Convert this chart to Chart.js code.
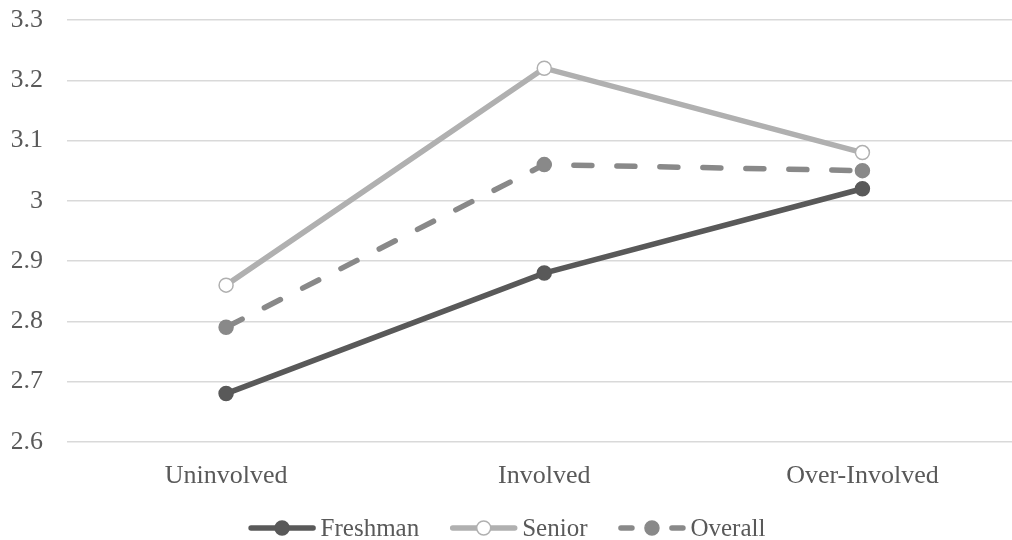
<!DOCTYPE html>
<html>
<head>
<meta charset="utf-8">
<script src="https://cdn.jsdelivr.net/npm/chart.js@4.4.1/dist/chart.umd.min.js"></script>
<style>
    html, body { margin: 0; padding: 0; background: #fff; overflow: hidden; }
    canvas { display: block; }
</style>
</head>
<body>
<canvas id="chart" width="1030" height="540"></canvas>
<script>
var categories = ['Uninvolved', 'Involved', 'Over-Involved'];
var freshman = [2.68, 2.88, 3.02];
var senior = [2.86, 3.22, 3.08];
var overall = [2.79, 3.06, 3.05];
var yMin = 2.6, yMax = 3.3, yStep = 0.1;

var FONT_FAMILY = '"Liberation Serif", "Times New Roman", serif';
var TEXT_COLOR = '#595959';

// legend with a short line sample and marker for each series, drawn under the axis labels
var lineLegend = {
    id: 'lineLegend',
    afterDraw: function (chart) {
        var ctx = chart.ctx;
        var sets = chart.data.datasets;
        var sample = 67, gap = 5, spacing = 31;
        ctx.save();
        ctx.font = '25px ' + FONT_FAMILY;
        var widths = sets.map(function (ds) { return sample + gap + ctx.measureText(ds.label).width; });
        var total = widths.reduce(function (a, b) { return a + b; }, 0) + spacing * (sets.length - 1);
        var x = 507 - total / 2, y = 528;
        sets.forEach(function (ds, i) {
            ctx.lineWidth = ds.borderWidth;
            ctx.strokeStyle = ds.borderColor;
            ctx.lineCap = 'round';
            ctx.setLineDash(ds.borderDash ? [11, 40] : []);
            ctx.beginPath();
            ctx.moveTo(x + 2.5, y);
            ctx.lineTo(x + sample - 2.5, y);
            ctx.stroke();
            ctx.setLineDash([]);
            ctx.beginPath();
            ctx.arc(x + sample / 2, y, ds.pointRadius, 0, Math.PI * 2);
            ctx.fillStyle = ds.pointBackgroundColor;
            ctx.fill();
            ctx.lineWidth = ds.pointBorderWidth;
            ctx.strokeStyle = ds.pointBorderColor;
            ctx.stroke();
            ctx.fillStyle = TEXT_COLOR;
            ctx.textBaseline = 'middle';
            ctx.textAlign = 'left';
            ctx.fillText(ds.label, x + sample + gap, y + 1);
            x += widths[i] + spacing;
        });
        ctx.restore();
    }
};

function series(label, values, color, fill, dash) {
    return {
        label: label,
        data: values,
        borderColor: color,
        borderWidth: 5.5,
        borderDash: dash,
        borderCapStyle: 'round',
        pointRadius: 7,
        pointHoverRadius: 7,
        pointBackgroundColor: fill,
        pointBorderColor: color,
        pointBorderWidth: 1.5,
        tension: 0
    };
}

new Chart(document.getElementById('chart'), {
    type: 'line',
    data: {
        labels: categories,
        datasets: [
            series('Freshman', freshman, '#595959', '#595959'),
            series('Senior', senior, '#b0b0b0', '#ffffff'),
            series('Overall', overall, '#898989', '#898989', [18, 25])
        ]
    },
    options: {
        responsive: false,
        animation: false,
        layout: { padding: { left: 12, right: 2, top: 20, bottom: 29 } },
        plugins: {
            legend: { display: false },
            tooltip: { enabled: false }
        },
        scales: {
            x: {
                offset: true,
                grid: { display: false, drawTicks: false },
                border: { display: false },
                ticks: { padding: 19, color: TEXT_COLOR, font: { family: FONT_FAMILY, size: 26 } },
                afterFit: function (scale) { scale.paddingLeft = 0; scale.paddingRight = 0; }
            },
            y: {
                min: yMin,
                max: yMax,
                grid: { color: '#d9d9d9', lineWidth: 1.5, drawTicks: false },
                border: { display: false },
                ticks: {
                    stepSize: yStep,
                    padding: 24,
                    color: TEXT_COLOR,
                    font: { family: FONT_FAMILY, size: 26 },
                    callback: function (v) { return String(+v.toFixed(1)); }
                },
                afterFit: function (scale) {
                    scale.width = 55;
                    scale.paddingTop = 16;
                    scale.paddingBottom = 16;
                }
            }
        }
    },
    plugins: [lineLegend]
});
</script>
</body>
</html>
